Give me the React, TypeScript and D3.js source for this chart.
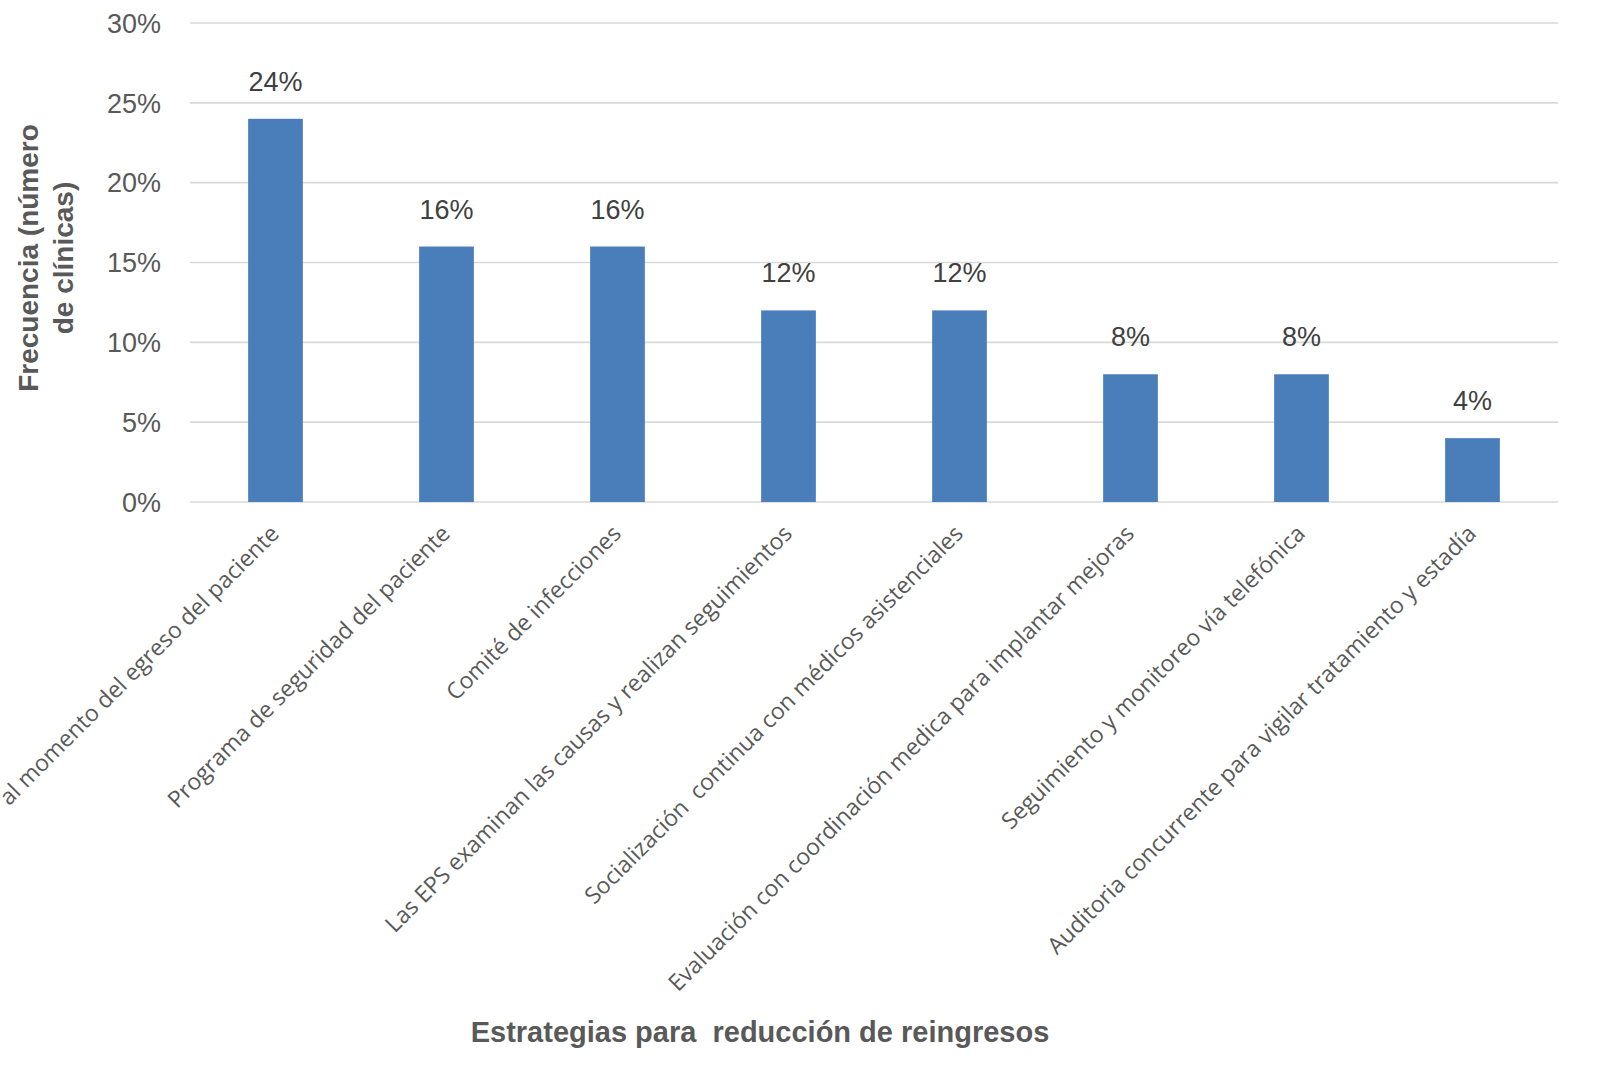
import React from "react";
import * as d3 from "d3";

const categories = [
  "al momento del egreso del paciente",
  "Programa de seguridad del paciente",
  "Comité de infecciones",
  "Las EPS examinan las causas y realizan seguimientos",
  "Socialización  continua con médicos asistenciales",
  "Evaluación con coordinación medica para implantar mejoras",
  "Seguimiento y monitoreo vía telefónica",
  "Auditoria concurrente para vigilar tratamiento y estadía",
];
const values = [24, 16, 16, 12, 12, 8, 8, 4];
const yTicks = [0, 5, 10, 15, 20, 25, 30];
const yTitleLines = ["Frecuencia (número", "de clínicas)"];
const xTitle = "Estrategias para  reducción de reingresos";

const W = 1623;
const H = 1086;
const left = 190;
const right = 1558;
const top = 23;
const bottom = 502;

export default function App() {
  const x = d3.scaleBand<string>().domain(categories).range([left, right]).paddingInner(0.68).paddingOuter(0.34);
  const y = d3.scaleLinear().domain([0, 30]).range([bottom, top]);
  const bw = x.bandwidth();
  return (
    <svg width={W} height={H} style={{ position: "absolute", left: 0, top: 0, background: "#fff" }}>
      {yTicks.map((t) => (
        <g key={t}>
          <line x1={left} x2={right} y1={y(t)} y2={y(t)} stroke="#d9d9d9" strokeWidth={1.6} />
          <text x={161} y={y(t)} dy="0.36em" textAnchor="end" fontFamily="Liberation Sans, Arial" fontSize={27} fill="#595959">
            {t}%
          </text>
        </g>
      ))}
      {categories.map((c, i) => {
        const cx = (x(c) as number) + bw / 2;
        return (
          <g key={c}>
            <rect x={x(c)} y={y(values[i])} width={bw} height={y(0) - y(values[i])} fill="#4a7ebb" />
            <text x={cx} y={y(values[i]) - 28} textAnchor="middle" fontFamily="Liberation Sans, Arial" fontSize={27} fill="#404040">
              {values[i]}%
            </text>
            <text
              transform={`translate(${cx + 5},${bottom + 33}) rotate(-45)`}
              textAnchor="end"
              fontFamily="Open Sans, Lato, sans-serif"
              fontSize={23}
              fill="#595959"
              style={{ whiteSpace: "pre" }}
            >
              {c}
            </text>
          </g>
        );
      })}
      <text transform={`translate(38,258) rotate(-90)`} textAnchor="middle" fontFamily="Liberation Sans, Arial" fontWeight="bold" fontSize={28} fill="#595959">
        <tspan x={0} dy={0}>{yTitleLines[0]}</tspan>
        <tspan x={0} dy={35}>{yTitleLines[1]}</tspan>
      </text>
      <text x={760} y={1042} textAnchor="middle" fontFamily="Liberation Sans, Arial" fontWeight="bold" fontSize={29} fill="#595959" style={{ whiteSpace: "pre" }}>
        {xTitle}
      </text>
    </svg>
  );
}
